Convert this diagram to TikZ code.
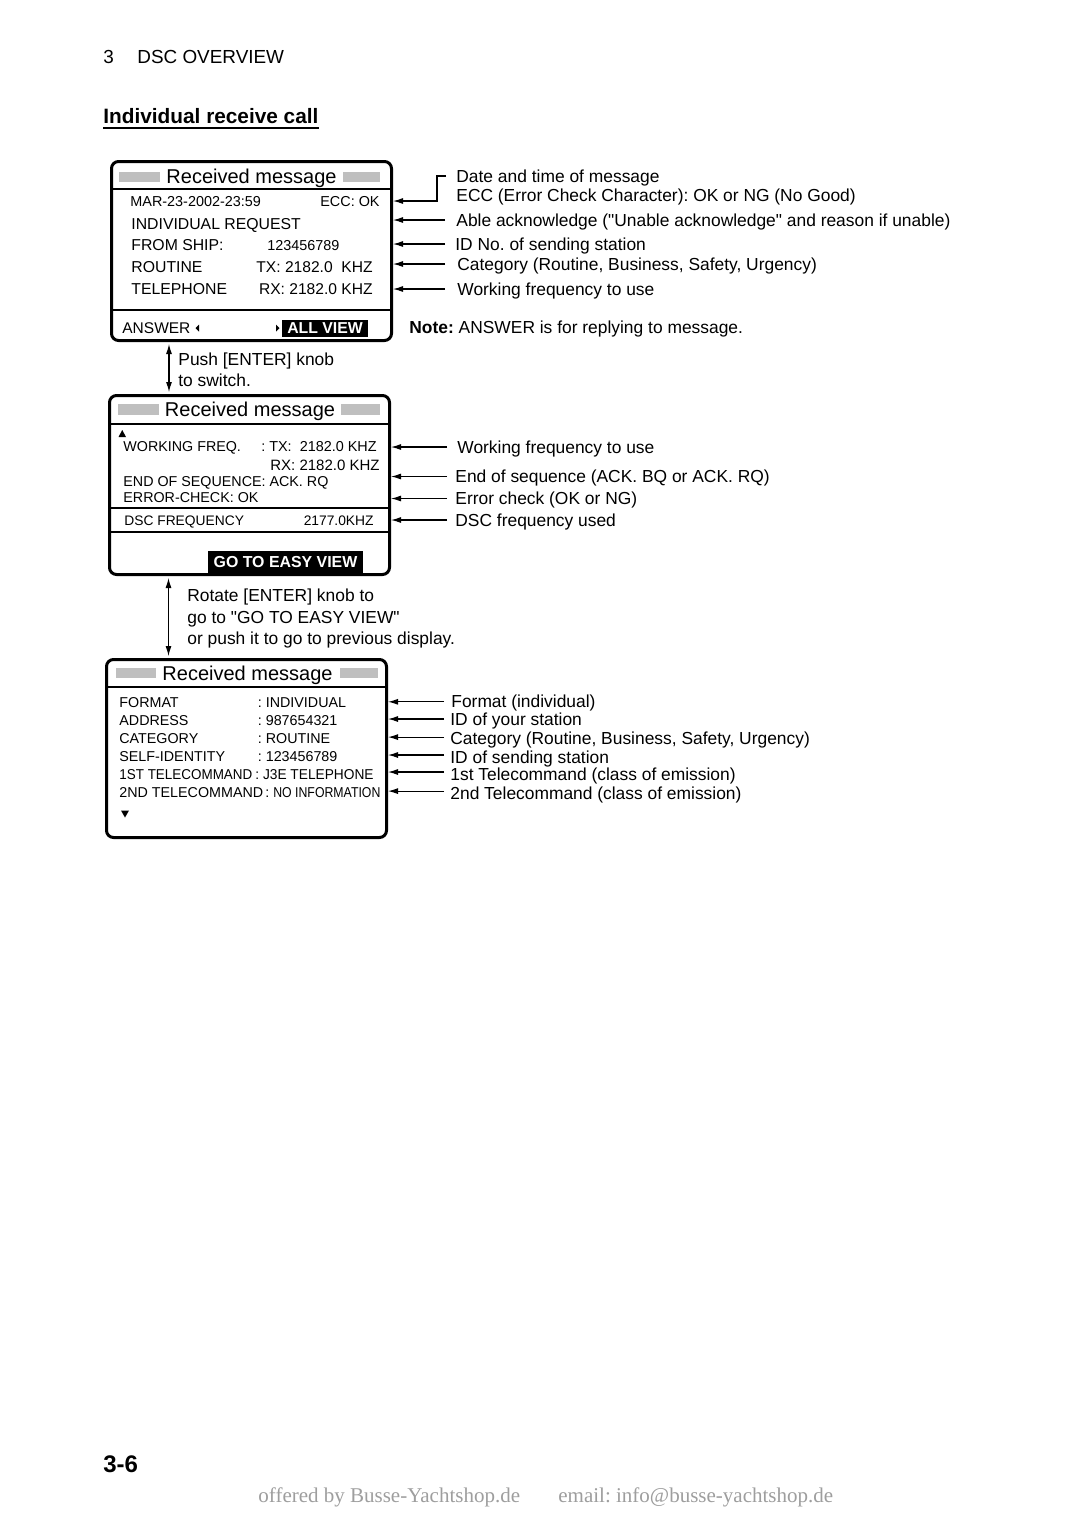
\documentclass[tikz,border=0pt]{standalone}
\usepackage{fontspec}
\setmainfont{Liberation Sans}[Ligatures=TeXOff]
\newfontfamily\wmfont{Liberation Serif}
\usetikzlibrary{arrows.meta,calc}
\definecolor{bargray}{gray}{0.75}
\definecolor{wmgray}{gray}{0.62}
\newcommand{\myfs}[1]{\fontsize{#1}{#1}\selectfont}
\frenchspacing
\begin{document}
\frenchspacing
\begin{tikzpicture}[x=0.5pt,y=-0.5pt,
  T/.style={inner sep=0pt, anchor=base west},
  TE/.style={inner sep=0pt, anchor=base east},
  ann/.style={T, font=\myfs{8.7}},
  scr/.style={draw, line width=1.5pt, rounded corners=3.5pt, inner sep=0pt, minimum width=140pt},
  sepl/.style={line width=0.75pt},
  bar/.style={fill=bargray},
  arr/.style={line width=0.55pt, -{Latex[length=5pt,width=3pt]}},
  dbl/.style={line width=0.55pt, {Latex[length=5pt,width=3pt]}-{Latex[length=5pt,width=3pt]}, shorten <=1pt, shorten >=1pt},
  inv/.style={fill=black, text=white, inner sep=0pt, font=\bfseries\myfs{7.9}},
  ttl/.style={inner sep=0pt, anchor=base, font=\myfs{10}}
]
\fill[white] (0,0) rectangle (1080,1528);
\useasboundingbox (0,0) rectangle (1080,1528);

% header
\node[T, font=\myfs{9.45}] (h1) at (103,63.8) {3};
\node[T, font=\myfs{9.45}] (h2) at (137,63.8) {DSC OVERVIEW};
\node[T, font=\bfseries\myfs{10.4}] (sec) at (103,123.5) {Individual receive call};
\draw[line width=1pt] ([yshift=-2.3pt]sec.base west) -- ([yshift=-2.3pt]sec.base east);

% ---------- screen 1 ----------
\node[scr, minimum height=89.5pt] (box1) at (251.5,251) {};
\fill[bar] (119,172) rectangle (160,182);
\fill[bar] (343,172) rectangle (380,182);
\node[ttl] (t1) at (251.5,183) {Received message};
\draw[sepl] (box1.west |- 0,189) -- (box1.east |- 0,189);
\draw[sepl] (box1.west |- 0,310) -- (box1.east |- 0,310);
\node[T, font=\myfs{7.2}] (b1r1) at (130,206.5) {MAR-23-2002-23:59};
\node[TE, font=\myfs{7.2}] (b1ecc) at (380,206.5) {ECC: OK};
\node[T, font=\myfs{7.9}] (b1r2) at (131,229) {INDIVIDUAL REQUEST};
\node[T, font=\myfs{7.9}] (b1r3) at (131,250.7) {FROM SHIP:};
\node[T, font=\myfs{7.2}] (b1id) at (267,250.5) {123456789};
\node[T, font=\myfs{7.9}] (b1r4) at (131,272.2) {ROUTINE};
\node[TE, font=\myfs{7.8}] (b1tx) at (373,272.2) {TX: 2182.0~~KHZ};
\node[T, font=\myfs{7.9}] (b1r5) at (131,294) {TELEPHONE};
\node[TE, font=\myfs{7.8}] (b1rx) at (373,294) {RX: 2182.0 KHZ};
\node[T, font=\myfs{7.75}] (b1ans) at (122,333.5) {ANSWER};
\fill (199,324.5) -- (199,331.5) -- (195.5,328) -- cycle;
\fill (276,324.5) -- (276,331.5) -- (279.5,328) -- cycle;
\node[inv, minimum width=43pt, minimum height=8.5pt] (allv) at (325,328.5) {ALL VIEW};

% annotations screen 1
\node[ann] (a0) at (456,182.2) {Date and time of message};
\node[ann] (a1) at (456,201.2) {ECC (Error Check Character): OK or NG (No Good)};
\node[ann] (a2) at (456,226.2) {Able acknowledge ("Unable acknowledge" and reason if unable)};
\node[ann] (a3) at (455,250.2) {ID No. of sending station};
\node[ann] (a4) at (457,270.2) {Category (Routine, Business, Safety, Urgency)};
\node[ann] (a5) at (457,295.2) {Working frequency to use};
\node[ann] (note) at (409,333.7) {\textbf{Note:} ANSWER is for replying to message.};

\coordinate (elb) at (437,201);
\draw[arr] ([xshift=-5pt,yshift=3.1pt]a0.base west) -| (elb) -- (elb -| box1.east);
\coordinate (t2) at ([xshift=-5.5pt,yshift=3.1pt]a2.base west);
\coordinate (t3) at ([xshift=-5pt,yshift=3.1pt]a3.base west);
\coordinate (t4) at ([xshift=-6pt,yshift=3.1pt]a4.base west);
\coordinate (t5) at ([xshift=-6pt,yshift=3.1pt]a5.base west);
\foreach \t in {t2,t3,t4,t5} \draw[arr] (\t) -- (\t -| box1.east);

% connector 1
\coordinate (k1) at (169,0);
\node[ann] (push1) at (178,365) {Push [ENTER] knob};
\node[ann] (push2) at (178,386) {to switch.};

% ---------- screen 2 ----------
\node[scr, minimum height=89.5pt] (box2) at (249.5,485) {};
\draw[dbl] (box1.south -| k1) -- (box2.north -| k1);
\fill[bar] (118,404) rectangle (159,415);
\fill[bar] (341,404) rectangle (380,415);
\node[ttl] (t2t) at (250,416.2) {Received message};
\draw[sepl] (box2.west |- 0,424) -- (box2.east |- 0,424);
\draw[sepl] (box2.west |- 0,508) -- (box2.east |- 0,508);
\draw[sepl] (box2.west |- 0,532) -- (box2.east |- 0,532);
\fill (118.5,437) -- (126,437) -- (122.25,430) -- cycle;
\node[T, font=\myfs{7.15}] (b2r1) at (123,451.1) {WORKING FREQ.};
\node[TE, font=\myfs{7.2}] (b2tx) at (377,451.1) {: TX:~~2182.0 KHZ};
\node[TE, font=\myfs{7.5}] (b2rx) at (380,470.4) {RX: 2182.0 KHZ};
\node[T, font=\myfs{7.15}] (b2r3) at (123,486.6) {END OF SEQUENCE: ACK. RQ};
\node[T, font=\myfs{7.15}] (b2r4) at (123,502.1) {ERROR-CHECK: OK};
\node[T, font=\myfs{6.9}] (b2dsc) at (124,525.9) {DSC FREQUENCY};
\node[TE, font=\myfs{6.9}] (b2dscv) at (374,525.9) {2177.0KHZ};
\node[inv, font=\bfseries\myfs{7.95}, minimum width=77.5pt, minimum height=11pt] (easy) at (285.5,562) {GO TO EASY VIEW};

% annotations screen 2
\node[ann] (c1) at (457,453.2) {Working frequency to use};
\node[ann] (c2) at (455,482.7) {End of sequence (ACK. BQ or ACK. RQ)};
\node[ann] (c3) at (455,504.7) {Error check (OK or NG)};
\node[ann] (c4) at (455,526.2) {DSC frequency used};
\coordinate (u1) at ([xshift=-5pt,yshift=3.1pt]c1.base west);
\coordinate (u2) at ([xshift=-4pt,yshift=3.1pt]c2.base west);
\coordinate (u3) at ([xshift=-4pt,yshift=3.1pt]c3.base west);
\coordinate (u4) at ([xshift=-4pt,yshift=3.1pt]c4.base west);
\foreach \t in {u1,u2,u3,u4} \draw[arr] (\t) -- (\t -| box2.east);

% connector 2
\coordinate (k2) at (168.5,0);
\node[ann] (rot1) at (187,601.5) {Rotate [ENTER] knob to};
\node[ann] (rot2) at (187,623) {go to "GO TO EASY VIEW"};
\node[ann] (rot3) at (187,644.5) {or push it to go to previous display.};

% ---------- screen 3 ----------
\node[scr, minimum height=89pt] (box3) at (246.5,748.5) {};
\draw[dbl] (box2.south -| k2) -- (box3.north -| k2);
\fill[bar] (116,668) rectangle (156,678);
\fill[bar] (340,668) rectangle (378,678);
\node[ttl] (t3t) at (247.5,680.2) {Received message};
\draw[sepl] (box3.west |- 0,687) -- (box3.east |- 0,687);
\node[T, font=\myfs{7.15}] (f1) at (119,707.1) {FORMAT};
\node[T, font=\myfs{7.15}] (v1) at (257.5,707.1) {: INDIVIDUAL};
\node[T, font=\myfs{7.15}] (f2) at (119,725.1) {ADDRESS};
\node[T, font=\myfs{7.15}] (v2) at (257.5,725.1) {: 987654321};
\node[T, font=\myfs{7.15}] (f3) at (119,743.1) {CATEGORY};
\node[T, font=\myfs{7.15}] (v3) at (257.5,743.1) {: ROUTINE};
\node[T, font=\myfs{7.15}] (f4) at (119,761.1) {SELF-IDENTITY};
\node[T, font=\myfs{7.15}] (v4) at (257.5,761.1) {: 123456789};
\node[T, font=\myfs{7.15}] (f5) at (119,779.1) {\scalebox{0.94}[1]{1ST TELECOMMAND}};
\node[T, font=\myfs{7.15}] (v5) at (255,779.1) {\scalebox{0.96}[1]{: J3E TELEPHONE}};
\node[T, font=\myfs{7.15}] (f6) at (119,797.1) {2ND TELECOMMAND};
\node[T, font=\myfs{7.15}] (v6) at (265,797.1) {: \scalebox{0.86}[1]{NO INFORMATION}};
\fill (121,810.5) -- (129,810.5) -- (125,817.5) -- cycle;

% annotations screen 3
\node[ann] (d1) at (451,707.2) {Format (individual)};
\node[ann] (d2) at (450,725.2) {ID of your station};
\node[ann] (d3) at (450,744.7) {Category (Routine, Business, Safety, Urgency)};
\node[ann] (d4) at (450,763.2) {ID of sending station};
\node[ann] (d5) at (450,780.2) {1st Telecommand (class of emission)};
\node[ann] (d6) at (450,799.7) {2nd Telecommand (class of emission)};
\coordinate (w1) at ([xshift=-3.5pt,yshift=2.7pt]d1.base west);
\coordinate (w2) at ([xshift=-3pt,yshift=3.1pt]d2.base west);
\coordinate (w3) at ([xshift=-3pt,yshift=3.8pt]d3.base west);
\coordinate (w4) at ([xshift=-3pt,yshift=4.1pt]d4.base west);
\coordinate (w5) at ([xshift=-3pt,yshift=4.1pt]d5.base west);
\coordinate (w6) at ([xshift=-3pt,yshift=4.3pt]d6.base west);
\foreach \t in {w1,w2,w3,w4,w5,w6} \draw[arr] (\t) -- (\t -| box3.east);

% footer
\node[T, font=\bfseries\myfs{12}] (pg) at (103,1472) {3-6};
\node[T, font=\wmfont\myfs{10.5}, text=wmgray] (wm1) at (258,1502) {offered by Busse-Yachtshop.de};
\node[T, font=\wmfont\myfs{10.5}, text=wmgray] (wm2) at (558,1502) {email: info@busse-yachtshop.de};
\end{tikzpicture}
\end{document}
